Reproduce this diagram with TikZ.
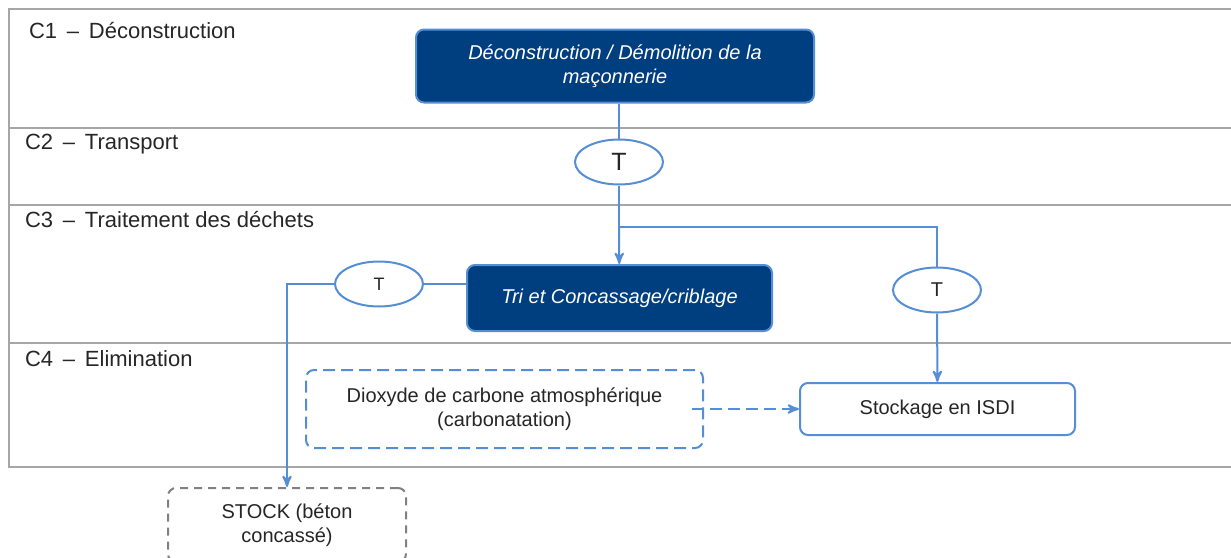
\documentclass[tikz,border=0pt]{standalone}
\usepackage{fontspec}
\setmainfont{Liberation Sans}
\usetikzlibrary{arrows,shapes.geometric}
\definecolor{lanegray}{HTML}{A6A6A6}
\definecolor{flowblue}{HTML}{558ED5}
\definecolor{navy}{HTML}{003F7F}
\definecolor{ink}{HTML}{262626}
\tikzstyle{flow} = [draw=flowblue,line width=1pt]
\tikzstyle{arrowflow} = [flow,-stealth']
\tikzstyle{stage} = [rectangle,rounded corners=4pt,draw=flowblue,line width=1pt,fill=navy,text=white,font=\itshape,align=center]
\tikzstyle{transport} = [ellipse,draw=flowblue,line width=1pt,fill=white,text=ink,minimum width=44pt,minimum height=22.5pt,inner sep=0pt]
\tikzstyle{sink} = [rectangle,rounded corners=4pt,draw=flowblue,line width=1pt,fill=white,text=ink,align=center]
\tikzstyle{lanelabel} = [anchor=west,text=ink,font=\fontsize{11}{13}\selectfont]

\begin{document}
\begin{tikzpicture}[x=0.5pt,y=-0.5pt]
\useasboundingbox (0,0) rectangle (1231,557);
\draw[lanegray,line width=1pt] (9,9) rectangle (1240,467);
\foreach \y in {128,205,343}
	\draw[lanegray,line width=1pt] (9,\y) -- (1240,\y);

\node[lanelabel] (c1) at (22,31) {C1 \,--\, Déconstruction};
\node[lanelabel] (c2) at (18,144) {C2 \,--\, Transport};
\node[lanelabel] (c3) at (18,220) {C3 \,--\, Traitement des déchets};
\node[lanelabel] (c4) at (18,359) {C4 \,--\, Elimination};

\node[stage,minimum width=199pt,minimum height=36.5pt] (demol) at (615,66) {Déconstruction / Démolition de la\\maçonnerie};
\node[transport,font=\fontsize{12.5}{15}\selectfont] (t1) at (619,162) {T};
\coordinate (split) at (619,227);
\node[stage,minimum width=152.5pt,minimum height=33pt] (tri) at (619.5,298) {Tri et Concassage/criblage};
\node[transport,font=\small] (t2) at (379,284) {T};
\node[transport] (t3) at (937,290) {T};
\node[sink,minimum width=137.5pt,minimum height=26pt] (isdi) at (937.5,409) {Stockage en ISDI};
\node[sink,dashed,dash pattern=on 6pt off 3pt,minimum width=198.5pt,minimum height=39pt] (co2) at (504.5,409) {Dioxyde de carbone atmosphérique\\(carbonatation)};
\node[sink,draw=gray,dash pattern=on 4pt off 3pt,minimum width=119pt,minimum height=37pt] (stock) at (287,525) {STOCK (béton\\concassé)};

\path[flow] (demol.south -| t1) -- (t1);
\path[flow] (t1) -- (split);
\path[arrowflow] (split) -- (tri);
\path[flow] (split) -| (t3);
\path[arrowflow] (t3) -- (isdi);
\path[flow] (tri.west |- t2) -- (t2);
\path[arrowflow] (t2.west) -| (stock.north);
\path[arrowflow,dash pattern=on 6pt off 3pt] ([xshift=-6pt]co2.east) -- (isdi.west);
\end{tikzpicture}
\end{document}
